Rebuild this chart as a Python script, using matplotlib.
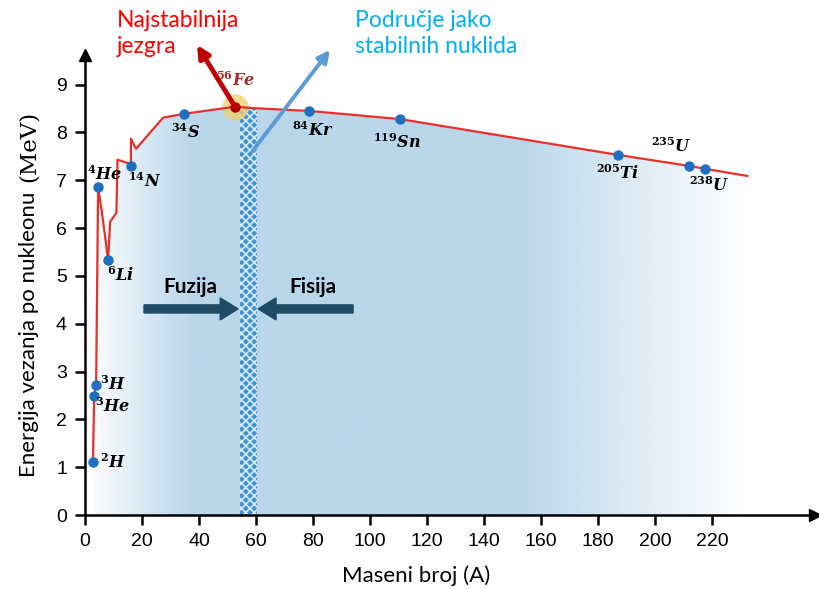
import numpy as np
import matplotlib
matplotlib.use("Agg")
import matplotlib.pyplot as plt
from matplotlib.patches import Polygon, Rectangle

plt.rcParams['mathtext.fontset'] = 'dejavuserif'

# nuclides (x on the drawn axis, MeV per nucleon)
nuc_names = ['2H', '3He', '3H', '4He', '6Li', '14N', '34S', '56Fe', '84Kr', '119Sn', '205Ti', '235U', '238U']
nuc_labels = [r'$^{\mathbf{2}}\mathbfit{H}$', r'$^{\mathbf{3}}\mathbfit{He}$', r'$^{\mathbf{3}}\mathbfit{H}$',
              r'$^{\mathbf{4}}\mathbfit{He}$', r'$^{\mathbf{6}}\mathbfit{Li}$', r'$^{\mathbf{14}}\mathbfit{N}$',
              r'$^{\mathbf{34}}\mathbfit{S}$', r'$^{\mathbf{56}}\mathbfit{Fe}$', r'$^{\mathbf{84}}\mathbfit{Kr}$',
              r'$^{\mathbf{119}}\mathbfit{Sn}$', r'$^{\mathbf{205}}\mathbfit{Ti}$', r'$^{\mathbf{235}}\mathbfit{U}$',
              r'$^{\mathbf{238}}\mathbfit{U}$']
nuc_x = [2.8, 3.2, 3.9, 4.6, 8.1, 16.1, 34.7, 52.6, 78.6, 110.5, 187.0, 211.9, 217.5]
nuc_y = [1.11, 2.49, 2.72, 6.86, 5.33, 7.30, 8.39, 8.54, 8.45, 8.28, 7.53, 7.30, 7.24]

# binding energy curve
curve_x = [2.8, 3.2, 3.9, 4.6, 6.3, 7.5, 8.1, 8.8, 11.0, 11.4, 15.1, 16.1, 16.1, 17.9,
           27.4, 34.7, 52.6, 58.6, 78.6, 110.5, 187.0, 211.9, 217.5, 232.3]
curve_y = [1.11, 2.49, 2.72, 6.86, 6.17, 5.61, 5.33, 6.13, 6.32, 7.43, 7.36, 7.30, 7.87, 7.66,
           8.31, 8.39, 8.54, 8.51, 8.45, 8.28, 7.53, 7.30, 7.24, 7.09]

stable_band = (54.4, 60.4)
x_ticks = list(range(0, 240, 20))
y_ticks = list(range(0, 10))

# label offsets in pixels (dx, dy)
lab_off = [(20, 0), (18, -10), (17, 1), (6, 13), (12, -15), (14, -15), (2, -18),
           (1, 27), (4, -19), (-3, -23), (-1, -18), (-18, 20), (4, -16)]

fig = plt.figure(figsize=(8.19, 5.89), dpi=100)
ax = fig.add_axes([85 / 819, 1 - 515 / 589, 730 / 819, 460 / 589])
ax.set_xlim(0, 256)
ax.set_ylim(0, 9.62)

# gradient fill under the curve
gx = np.linspace(0, 256, 600)
alpha = np.interp(gx, [0, 38, 150, 232], [0, 1, 1, 0])
img = np.zeros((1, gx.size, 4))
img[..., :3] = matplotlib.colors.to_rgb('#b9d6ea')
img[..., 3] = alpha
im = ax.imshow(img, extent=[0, 256, 0, 9.62], aspect='auto', origin='lower', zorder=0, interpolation='bilinear')
pts = np.column_stack([curve_x + [curve_x[-1], curve_x[0]], curve_y + [0, 0]])
clip = Polygon(pts, closed=True, transform=ax.transData, facecolor='none', edgecolor='none')
ax.add_patch(clip)
im.set_clip_path(clip)

# band of very stable nuclides
plt.rcParams['hatch.linewidth'] = 1.2
band = Rectangle((stable_band[0], 0), stable_band[1] - stable_band[0], 8.52,
                 facecolor='#3f92d4', edgecolor='#d6eaf7', hatch='xxxx', linewidth=0, zorder=1)
ax.add_patch(band)

ax.plot(curve_x, curve_y, color='#e8302a', lw=1.6, zorder=3)

fe = nuc_names.index('56Fe')
ax.plot(nuc_x[fe], nuc_y[fe], 'o', ms=19, color='#f2cf6b', alpha=0.75, zorder=2, mec='none')
for i, (x, y) in enumerate(zip(nuc_x, nuc_y)):
    c = '#b00000' if i == fe else '#1f6fc0'
    ax.plot(x, y, 'o', ms=6.5, color=c, zorder=4)
    ax.annotate(nuc_labels[i], (x, y), xytext=lab_off[i], textcoords='offset pixels',
                ha='center', va='center', fontsize=11.5,
                color='#a52a2a' if i == fe else 'black', zorder=5)

# arrows to the captions
ax.annotate('', xy=(197, 589 - 45), xycoords='figure pixels',
            xytext=(nuc_x[fe], nuc_y[fe]), textcoords='data',
            arrowprops=dict(arrowstyle='-|>', lw=3.5, color='#c00000', mutation_scale=18,
                            shrinkA=0, shrinkB=0), zorder=6)
ax.annotate('', xy=(330, 589 - 50), xycoords='figure pixels',
            xytext=(58.6, 7.6), textcoords='data',
            arrowprops=dict(arrowstyle='-|>', lw=2.8, color='#5b9bd5', mutation_scale=18,
                            shrinkA=0, shrinkB=0), zorder=6)

# fusion / fission arrows
ax.arrow(20.7, 4.31, 53.7 - 20.7, 0, width=0.17, head_width=0.46, head_length=6.3,
         length_includes_head=True, color='#1e4c66', zorder=5)
ax.arrow(94.0, 4.31, 60.7 - 94.0, 0, width=0.17, head_width=0.46, head_length=6.3,
         length_includes_head=True, color='#1e4c66', zorder=5)
ax.text(37, 4.77, 'Fuzija', fontsize=15, fontweight='bold', family='Lato', ha='center', va='center')
ax.text(80, 4.77, 'Fisija', fontsize=15, fontweight='bold', family='Lato', ha='center', va='center')

fig.text(117 / 819, 1 - 10 / 589, 'Najstabilnija\njezgra', color='#ff0000', family='Lato',
         fontsize=16.5, ha='left', va='top', linespacing=1.3)
fig.text(355 / 819, 1 - 10 / 589, 'Područje jako\nstabilnih nuklida', color='#00b0f0', family='Lato',
         fontsize=16.5, ha='left', va='top', linespacing=1.3)

# axes styling
for s in ['top', 'right']:
    ax.spines[s].set_visible(False)
for s in ['left', 'bottom']:
    ax.spines[s].set_linewidth(1.8)
ax.set_xticks(x_ticks)
ax.set_yticks(y_ticks)
ax.tick_params(axis='both', direction='out', length=7, width=1.8, labelsize=14, pad=6)
for lab in ax.get_xticklabels() + ax.get_yticklabels():
    lab.set_family('Liberation Sans')
ax.plot(1, 0, '>', color='black', ms=9, transform=ax.transAxes, clip_on=False)
ax.plot(0, 1, '^', color='black', ms=9, transform=ax.transAxes, clip_on=False)

fig.text(416 / 819, 1 - 576 / 589, 'Maseni broj (A)', family='Lato', fontsize=16, ha='center', va='center')
fig.text(29 / 819, 1 - 477 / 589, 'Energija vezanja po nukleonu', family='Lato', fontsize=16,
         rotation=90, rotation_mode='anchor', ha='left', va='center')
fig.text(29 / 819, 1 - 182 / 589, '(MeV)', family='DejaVu Serif', fontsize=16.5,
         rotation=90, rotation_mode='anchor', ha='left', va='center')

fig.savefig('out.png', dpi=100)
